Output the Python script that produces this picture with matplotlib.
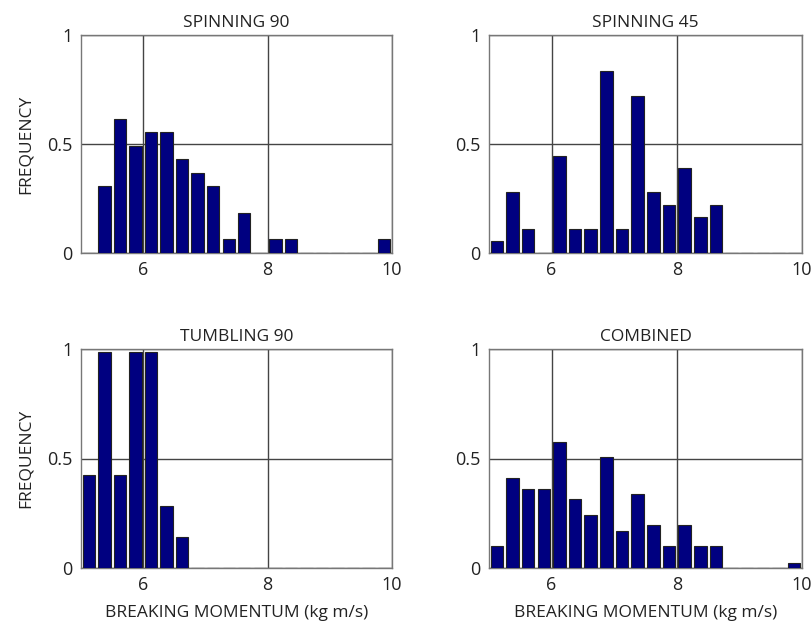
import numpy as np
import matplotlib
matplotlib.use("Agg")
import matplotlib.pyplot as plt

# bin centres (0.25 wide bins, 5..10)
bin_centers = np.arange(5.125, 10.0, 0.25)

spin90_freq = [0, 0.308, 0.615, 0.492, 0.554, 0.554, 0.431, 0.369, 0.308, 0.062,
               0.185, 0, 0.062, 0.062, 0, 0, 0, 0, 0, 0.062]
spin45_freq = [0.056, 0.278, 0.111, 0, 0.444, 0.111, 0.111, 0.833, 0.111, 0.722,
               0.278, 0.222, 0.389, 0.167, 0.222, 0, 0, 0, 0, 0]
tumble90_freq = [0.425, 0.985, 0.425, 0.985, 0.985, 0.285, 0.142, 0, 0, 0,
                 0, 0, 0, 0, 0, 0, 0, 0, 0, 0]
combined_freq = [0.099, 0.412, 0.362, 0.362, 0.577, 0.316, 0.243, 0.508, 0.171, 0.339,
                 0.195, 0.099, 0.195, 0.099, 0.099, 0, 0, 0, 0, 0.023]

titles = ["SPINNING 90", "SPINNING 45", "TUMBLING 90", "COMBINED"]
series = [spin90_freq, spin45_freq, tumble90_freq, combined_freq]
x_ticks = [6, 8, 10]
y_ticks = [0, 0.5, 1]
y_ticklabels = ["0", "0.5", "1"]

plt.rcParams["font.family"] = ["Open Sans", "DejaVu Sans"]

W, H = 812, 621
fig = plt.figure(figsize=(W / 100, H / 100), dpi=100)

# axes boxes in pixels: left, top, right, bottom
boxes = [(81, 35, 392, 253), (489, 35, 802, 253),
         (81, 349, 392, 568), (489, 349, 802, 568)]

for i, (box, title, freq) in enumerate(zip(boxes, titles, series)):
    l, t, r, b = box
    ax = fig.add_axes([l / W, 1 - b / H, (r - l) / W, (b - t) / H])
    ax.bar(bin_centers, freq, width=0.2, color="#000080", edgecolor="#222222",
           linewidth=0.8, zorder=3)
    ax.set_xlim(5, 10)
    ax.set_ylim(0, 1)
    ax.set_xticks(x_ticks)
    ax.set_yticks(y_ticks)
    ax.set_yticklabels(y_ticklabels)
    ax.grid(True, color="#444444", linewidth=1.0, zorder=1)
    ax.tick_params(length=0, labelsize=13, pad=6, colors="#222222")
    for s in ax.spines.values():
        s.set_color("#777777")
        s.set_linewidth(1.0)
    ax.set_title(title, fontsize=12.5, pad=6, color="#222222")
    if i % 2 == 0:
        ax.set_ylabel("FREQUENCY", fontsize=12.5, labelpad=10, color="#222222")
    if i >= 2:
        ax.set_xlabel("BREAKING MOMENTUM (kg m/s)", fontsize=12.5, labelpad=8,
                      color="#222222")

fig.savefig("out.png", dpi=100)
